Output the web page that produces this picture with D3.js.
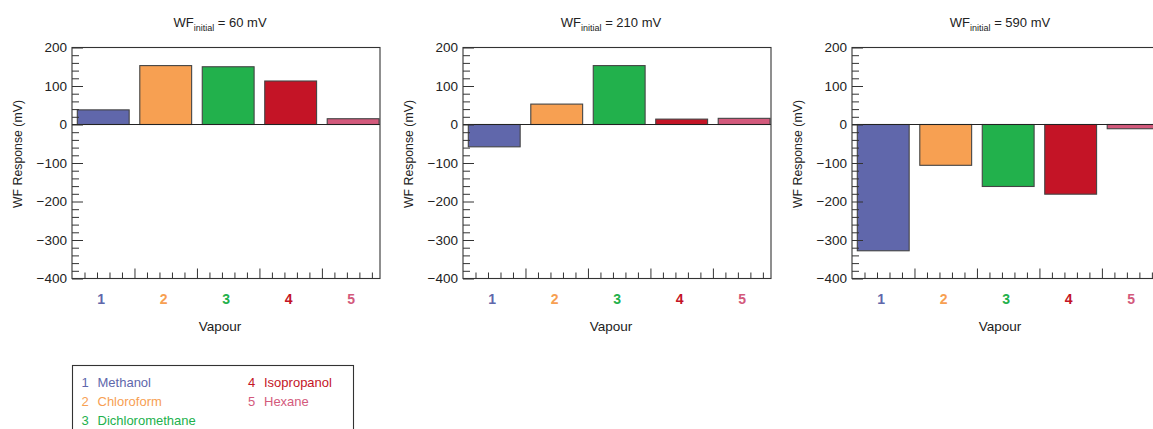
<!DOCTYPE html>
<html><head><meta charset="utf-8">
<script src="https://cdn.jsdelivr.net/npm/d3@7"></script>
<style>
body{margin:0;background:#fff;}
text{font-family:"Liberation Sans",Arial,Helvetica,sans-serif;}
</style></head>
<body><svg id="c" width="1153" height="429"></svg>
<script>
const vapours = ["1","2","3","4","5"];
const vapourNames = ["Methanol","Chloroform","Dichloromethane","Isopropanol","Hexane"];
const vapourColors = ["#6067ab","#f7a052","#22b14c","#c41426","#d35a7c"];
const panelInitial = ["60","210","590"];
const response60 = [38, 153, 150, 113, 15];
const response210 = [-58, 53, 153, 14, 16];
const response590 = [-328, -106, -161, -181, -11];
const yTicks = [200,100,0,-100,-200,-300,-400];

const panels = [
  {init: panelInitial[0], values: response60, left: 72},
  {init: panelInitial[1], values: response210, left: 463},
  {init: panelInitial[2], values: response590, left: 852}
];
const svg = d3.select("#c");
const W = 308, plotTop = 47.5, plotBottom = 278.5;
const fmt = d => d < 0 ? "\u2212" + Math.abs(d) : String(d);

panels.forEach(p => {
  const g = svg.append("g").attr("transform", `translate(${p.left},0)`);
  const x = d3.scaleLinear().domain([0.5, 5.43]).range([0, W]);
  const y = d3.scaleLinear().domain([-400, 200]).range([plotBottom, plotTop]);

  // bars
  g.selectAll("rect.bar").data(p.values).join("rect")
    .attr("class","bar")
    .attr("x", (d,i) => x(i + 1 - 0.415))
    .attr("width", (d,i) => Math.min(x(i + 1 + 0.415), W) - x(i + 1 - 0.415))
    .attr("y", d => y(Math.max(0, d)))
    .attr("height", d => Math.abs(y(d) - y(0)))
    .attr("fill", (d,i) => vapourColors[i])
    .attr("stroke", "#444").attr("stroke-width", 1.1);

  // zero line
  g.append("line").attr("x1",0).attr("x2",W).attr("y1",y(0)).attr("y2",y(0))
    .attr("stroke","#222").attr("stroke-width",1.2);

  // y minor ticks
  const yMinor = d3.range(-400, 201, 20).filter(v => v % 100 !== 0);
  const ya = g.append("g").call(d3.axisLeft(y).tickValues(yMinor).tickSize(-7).tickFormat(""));
  ya.select(".domain").remove();
  const yb = g.append("g").call(d3.axisLeft(y).tickValues(yTicks).tickSize(-11).tickPadding(16).tickFormat(fmt));
  yb.select(".domain").remove();
  g.selectAll(".tick line").attr("stroke","#333");
  yb.selectAll("text").attr("font-size",13.5).attr("fill","#222").attr("x",-5).attr("font-family","Liberation Sans, Arial, sans-serif");

  // x ticks
  const xMinor = d3.range(0.7, 5.43, 0.2).filter(v => Math.abs((v - 0.5) % 1) > 0.05 && Math.abs((v - 0.5) % 1 - 1) > 0.05);
  const xMajor = [1.5, 2.5, 3.5, 4.5];
  const xa = g.append("g").attr("transform",`translate(0,${plotBottom})`)
    .call(d3.axisBottom(x).tickValues(xMinor).tickSize(-6).tickFormat(""));
  xa.select(".domain").remove();
  const xb = g.append("g").attr("transform",`translate(0,${plotBottom})`)
    .call(d3.axisBottom(x).tickValues(xMajor).tickSize(-10).tickFormat(""));
  xb.select(".domain").remove();
  g.selectAll(".tick line").attr("stroke","#333");

  // frame
  g.append("rect").attr("x",0).attr("y",plotTop).attr("width",W).attr("height",plotBottom-plotTop)
    .attr("fill","none").attr("stroke","#333").attr("stroke-width",1.1);

  // category labels
  g.selectAll("text.cat").data(vapours).join("text").attr("class","cat")
    .attr("x", (d,i) => x(i + 1) - 2).attr("y", 304)
    .attr("text-anchor","middle").attr("font-size",14).attr("font-weight","bold")
    .attr("fill", (d,i) => vapourColors[i]).text(d => d);

  // x title
  g.append("text").attr("x", 148).attr("y", 331).attr("text-anchor","middle")
    .attr("font-size",13.5).attr("fill","#222").text("Vapour");

  // y title
  g.append("text").attr("transform",`translate(-50,154) rotate(-90)`).attr("text-anchor","middle")
    .attr("font-size",12.3).attr("fill","#222").text("WF Response (mV)");

  // panel title
  const t = g.append("text").attr("x",148).attr("y",27).attr("text-anchor","middle")
    .attr("font-size",13).attr("fill","#222");
  t.append("tspan").text("WF");
  t.append("tspan").attr("font-size",9).attr("dy",4).text("initial");
  t.append("tspan").attr("dy",-4).text(" = " + p.init + " mV");
});

// legend
const lg = svg.append("g");
lg.append("rect").attr("x",72.5).attr("y",365.5).attr("width",281).attr("height",80)
  .attr("fill","none").attr("stroke","#333").attr("stroke-width",1.1);
const legPos = [[81.5,386.5],[81.5,405.5],[81.5,424.5],[248,386.5],[248,405.5]];
vapours.forEach((v,i) => {
  const t = lg.append("text").attr("x",legPos[i][0]).attr("y",legPos[i][1])
    .attr("font-size",13).attr("fill",vapourColors[i]);
  t.append("tspan").text(v);
  t.append("tspan").attr("x",legPos[i][0] + 16).text(vapourNames[i]);
});
</script></body></html>
